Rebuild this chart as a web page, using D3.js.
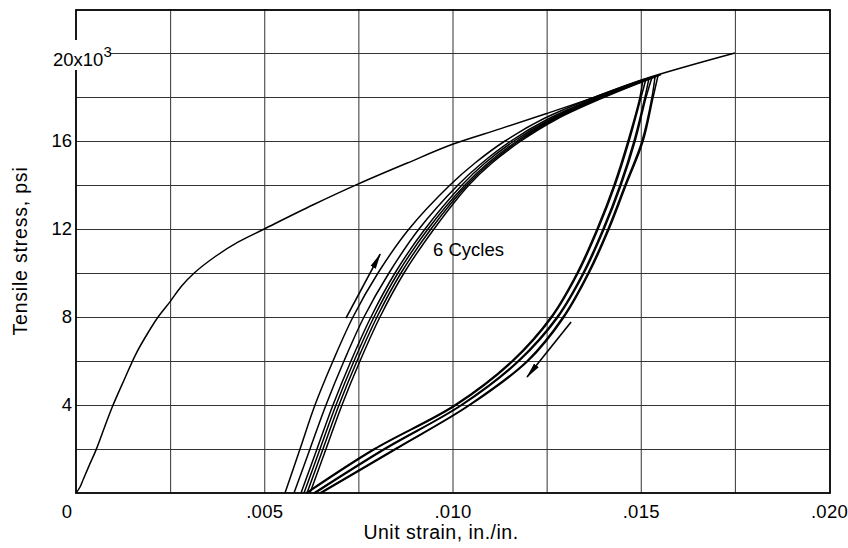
<!DOCTYPE html>
<html><head><meta charset="utf-8">
<script src="https://cdn.jsdelivr.net/npm/d3@7"></script>
<style>
html,body{margin:0;padding:0;background:#fff;}
svg{display:block;}
text{font-family:"Liberation Sans",Arial,sans-serif;fill:#000;}
</style></head><body>
<svg id="chart" width="848" height="548"></svg>
<script>
// ---------- data (strain in in./in., stress in psi) ----------
const monotonic = [[0,0],[0.0001,250],[0.0002,650],[0.00035,1250],[0.00053,1950],[0.00075,2950],[0.00096,3900],[0.00128,5150],[0.0016,6350],[0.0019,7250],[0.00218,8000],[0.0025,8700],[0.0028,9400],[0.00314,10000],[0.0037,10750],[0.0043,11400],[0.005,12000],[0.0063,13100],[0.0075,14050],[0.0088,15000],[0.010,15850],[0.01126,16550],[0.0125,17250],[0.0137,17950],[0.01506,18800],[0.0175,20000]];

const load1 = [[0.005551,0],[0.005950,2000],[0.006348,4000],[0.006826,6000],[0.007357,8000],[0.008021,10000],[0.008845,12000],[0.009934,14000],[0.010598,15000],[0.011394,16000],[0.012404,17000],[0.013785,18000],[0.01514,18830]];
const load2 = [[0.005790,0],[0.006215,2000],[0.006640,4000],[0.007118,6000],[0.007649,8000],[0.008313,10000],[0.009110,12000],[0.010146,14000],[0.010784,15000],[0.011554,16000],[0.012537,17000],[0.013865,18000],[0.01522,18870]];
const load3 = [[0.005976,0],[0.006401,2000],[0.006826,4000],[0.007304,6000],[0.007835,8000],[0.008473,10000],[0.009270,12000],[0.010252,14000],[0.010863,15000],[0.011633,16000],[0.012616,17000],[0.013891,18000],[0.01530,18900]];
const load4 = [[0.006056,0],[0.006481,2000],[0.006906,4000],[0.007384,6000],[0.007915,8000],[0.008552,10000],[0.009349,12000],[0.010332,14000],[0.010943,15000],[0.011713,16000],[0.012669,17000],[0.013944,18000],[0.01538,18940]];
const load5 = [[0.006135,0],[0.006560,2000],[0.006985,4000],[0.007463,6000],[0.007995,8000],[0.008632,10000],[0.009429,12000],[0.010385,14000],[0.010996,15000],[0.011766,16000],[0.012722,17000],[0.013997,18000],[0.01546,18980]];
const load6 = [[0.006215,0],[0.006640,2000],[0.007065,4000],[0.007543,6000],[0.008074,8000],[0.008712,10000],[0.009509,12000],[0.010438,14000],[0.011049,15000],[0.011819,16000],[0.012776,17000],[0.014050,18000],[0.01554,19020]];

const unload1 = [[0.01506,18800],[0.014980,18000],[0.014661,16000],[0.014290,14000],[0.013838,12000],[0.013307,10000],[0.012616,8000],[0.011580,6000],[0.010066,4000],[0.007915,2000],[0.006109,0]];
const unload2 = [[0.01514,18830],[0.015010,18000],[0.014691,16000],[0.014320,14000],[0.013868,12000],[0.013337,10000],[0.012646,8000],[0.011610,6000],[0.010096,4000],[0.007945,2000],[0.006139,0]];
const unload3 = [[0.01522,18870],[0.015113,18000],[0.014821,16000],[0.014449,14000],[0.013997,12000],[0.013466,10000],[0.012776,8000],[0.011740,6000],[0.010226,4000],[0.008181,2000],[0.006321,0]];
const unload4 = [[0.01530,18900],[0.015143,18000],[0.014851,16000],[0.014479,14000],[0.014027,12000],[0.013496,10000],[0.012806,8000],[0.011770,6000],[0.010256,4000],[0.008211,2000],[0.006351,0]];
const unload5 = [[0.01538,18940],[0.015299,18000],[0.015033,16000],[0.014582,14000],[0.014130,12000],[0.013599,10000],[0.012935,8000],[0.011979,6000],[0.010438,4000],[0.008473,2000],[0.006481,0]];
const unload6 = [[0.01546,18980],[0.015329,18000],[0.015063,16000],[0.014612,14000],[0.014160,12000],[0.013629,10000],[0.012965,8000],[0.012009,6000],[0.010468,4000],[0.008503,2000],[0.006511,0]];

const arrowUp = [[0.00717,7950],[0.00808,10860]];
const arrowDown = [[0.01315,7770],[0.01198,5270]];

const xGrid = [0.0025,0.005,0.0075,0.010,0.0125,0.015,0.0175];
const yGrid = [2000,4000,6000,8000,10000,12000,14000,16000,18000,20000];
const xTickValues = [0.005,0.010,0.015,0.020];
const xTickLabels = [".005",".010",".015",".020"];
const yTickValues = [4000,8000,12000,16000];
const yTickLabels = ["4","8","12","16"];

// ---------- layout ----------
const svg = d3.select("#chart");
const L = 76, R = 830, T = 9, B = 493;
const x = d3.scaleLinear().domain([0,0.020]).range([L,829]);
const y = d3.scaleLinear().domain([0,22000]).range([B,T]);

// grid
svg.append("g").attr("transform",`translate(0,${B})`)
  .call(d3.axisBottom(x).tickValues(xGrid).tickSize(-(B-T)).tickFormat(""))
  .call(g=>{g.select(".domain").remove();g.selectAll("line").attr("stroke","#333").attr("stroke-width",1);});
svg.append("g").attr("transform",`translate(${L},0)`)
  .call(d3.axisLeft(y).tickValues(yGrid).tickSize(-(R-L)).tickFormat(""))
  .call(g=>{g.select(".domain").remove();g.selectAll("line").attr("stroke","#333").attr("stroke-width",1);});

// frame
svg.append("rect").attr("x",L).attr("y",T+1).attr("width",R-L).attr("height",B-T-1)
  .attr("fill","none").attr("stroke","#000").attr("stroke-width",1.8);

// tick labels
const fs = 18.5;
svg.append("g").attr("transform",`translate(0,${B})`)
  .call(d3.axisBottom(x).tickValues(xTickValues).tickSize(0).tickPadding(12)
    .tickFormat((d,i)=>xTickLabels[i]))
  .call(g=>{g.select(".domain").remove();g.selectAll("text").attr("font-size",fs).attr("font-family",null).attr("letter-spacing",0.3);});
svg.append("text").attr("x",x(0)-9).attr("y",518).attr("text-anchor","middle").attr("font-size",fs).text("0");

svg.append("g").attr("transform",`translate(${L},0)`)
  .call(d3.axisLeft(y).tickValues(yTickValues).tickSize(0).tickPadding(4)
    .tickFormat((d,i)=>yTickLabels[i]))
  .call(g=>{g.select(".domain").remove();g.selectAll("text").attr("font-size",fs).attr("font-family",null);});

// 20x10^3 label with white background
svg.append("rect").attr("x",52).attr("y",40).attr("width",58).attr("height",30).attr("fill","#fff");
const t20 = svg.append("text").attr("x",53).attr("y",y(20000)+13).attr("font-size",fs);
t20.append("tspan").text("20x10");
t20.append("tspan").attr("dy",-9).attr("font-size",15).text("3");

// axis titles
svg.append("text").attr("x",441).attr("y",539).attr("text-anchor","middle").attr("font-size",19.5)
  .attr("letter-spacing",0.5).text("Unit strain,  in./in.");
svg.append("text").attr("transform","translate(27,251) rotate(-90)").attr("text-anchor","middle").attr("font-size",19.5)
  .attr("letter-spacing",0.8).text("Tensile stress,  psi");

// curves
const line = d3.line().x(d=>x(d[0])).y(d=>y(d[1])).curve(d3.curveCatmullRom.alpha(0.5));
const curves = [monotonic, load1, load2, load3, load4, load5, load6, unload1, unload2, unload3, unload4, unload5, unload6];
svg.append("g").selectAll("path").data(curves).join("path")
  .attr("d",line).attr("fill","none").attr("stroke","#000").attr("stroke-width",1.5).attr("stroke-linejoin","round");

// arrows
const defs = svg.append("defs");
defs.append("marker").attr("id","ah").attr("viewBox","0 0 16 8").attr("refX",15).attr("refY",4)
  .attr("markerWidth",16).attr("markerHeight",8).attr("markerUnits","userSpaceOnUse").attr("orient","auto")
  .append("path").attr("d","M0,1 L16,4 L0,7 Z").attr("fill","#000");
const straight = d3.line().x(d=>x(d[0])).y(d=>y(d[1]));
[arrowUp, arrowDown].forEach(a=>{
  svg.append("path").attr("d",straight(a)).attr("stroke","#000").attr("stroke-width",1.6)
    .attr("fill","none").attr("marker-end","url(#ah)");
});

// annotation
svg.append("text").attr("x",433).attr("y",256).attr("font-size",18.5).text("6 Cycles");
</script>
</body></html>
